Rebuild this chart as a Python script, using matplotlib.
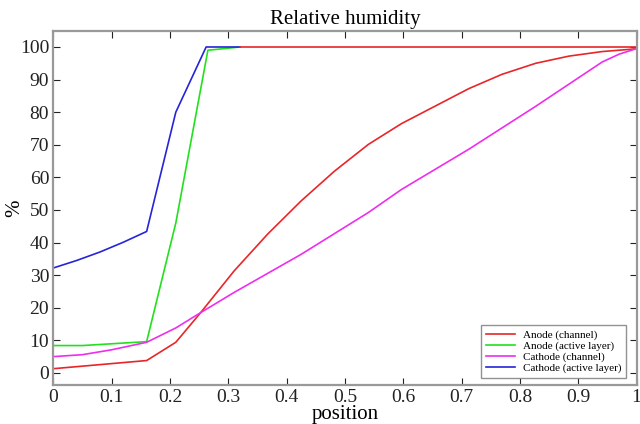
import matplotlib
matplotlib.use("Agg")
import matplotlib.pyplot as plt

plt.rcParams['font.family'] = ['Liberation Serif', 'DejaVu Serif']

# Anode (channel)
anode_ch_x = [0.0, 0.16, 0.21, 0.2526, 0.31, 0.3675, 0.425, 0.482, 0.54, 0.597, 0.654, 0.712, 0.769, 0.827, 0.884, 0.941, 0.99, 1.0]
anode_ch_y = [1.3, 3.8, 9.4, 18.5, 31.3, 42.6, 52.8, 61.9, 70.1, 76.5, 81.8, 87.2, 91.6, 95.0, 97.2, 98.6, 99.3, 99.5]
# Anode (active layer)
anode_al_x = [0.0, 0.05, 0.16, 0.21, 0.265, 0.32]
anode_al_y = [8.4, 8.4, 9.6, 46.0, 99.0, 100.0]
# Cathode (channel)
cath_ch_x = [0.0, 0.05, 0.1, 0.16, 0.21, 0.2526, 0.31, 0.425, 0.54, 0.597, 0.712, 0.827, 0.941, 0.97, 1.0]
cath_ch_y = [5.0, 5.6, 7.1, 9.4, 13.8, 18.5, 24.7, 36.4, 49.2, 56.3, 68.6, 81.8, 95.4, 97.8, 99.5]
# Cathode (active layer)
cath_al_x = [0.0, 0.04, 0.08, 0.12, 0.16, 0.21, 0.262, 0.32]
cath_al_y = [32.2, 34.5, 37.1, 40.1, 43.4, 80.0, 100.0, 100.0]
# saturated segment
sat_x = [0.32, 1.0]
sat_y = [100.0, 100.0]

xticks = [0, 0.1, 0.2, 0.3, 0.4, 0.5, 0.6, 0.7, 0.8, 0.9, 1]
xticklabels = ['0', '0.1', '0.2', '0.3', '0.4', '0.5', '0.6', '0.7', '0.8', '0.9', '1']
yticks = [0, 10, 20, 30, 40, 50, 60, 70, 80, 90, 100]

fig = plt.figure(figsize=(6.4, 4.24), dpi=100)
ax = fig.add_axes([0.0833, 0.092, 0.9114, 0.8356])

lw = 1.2
ax.plot(anode_ch_x, anode_ch_y, color='#e8262a', lw=lw, label='Anode (channel)')
ax.plot(anode_al_x, anode_al_y, color='#22e01e', lw=lw, label='Anode (active layer)')
ax.plot(cath_ch_x, cath_ch_y, color='#ee2eee', lw=lw, label='Cathode (channel)')
ax.plot(cath_al_x, cath_al_y, color='#2525d8', lw=lw, label='Cathode (active layer)')
ax.plot(sat_x, sat_y, color='#e8262a', lw=lw)

ax.set_xlim(0, 1)
ax.set_ylim(-3.7, 105)
ax.set_xticks(xticks)
ax.set_xticklabels(xticklabels)
ax.set_yticks(yticks)
ax.tick_params(direction='in', top=True, right=True, length=5, width=0.8,
               labelsize=14, colors='#222222', pad=3)
for s in ax.spines.values():
    s.set_color('#999999')
    s.set_linewidth(1.6)

ax.set_title('Relative humidity', fontsize=15, pad=5)
ax.set_xlabel('position', fontsize=15, labelpad=-1)
ax.set_ylabel('%', fontsize=15)
ax.yaxis.set_label_coords(-0.049, 0.5)

leg = ax.legend(loc='lower right', fontsize=8, frameon=True, fancybox=False,
                handlelength=2.6, borderpad=0.4, labelspacing=0.1,
                bbox_to_anchor=(0.992, 0.005))
leg.get_frame().set_edgecolor('#777777')
leg.get_frame().set_linewidth(1.0)

fig.savefig('out.png', dpi=100)
